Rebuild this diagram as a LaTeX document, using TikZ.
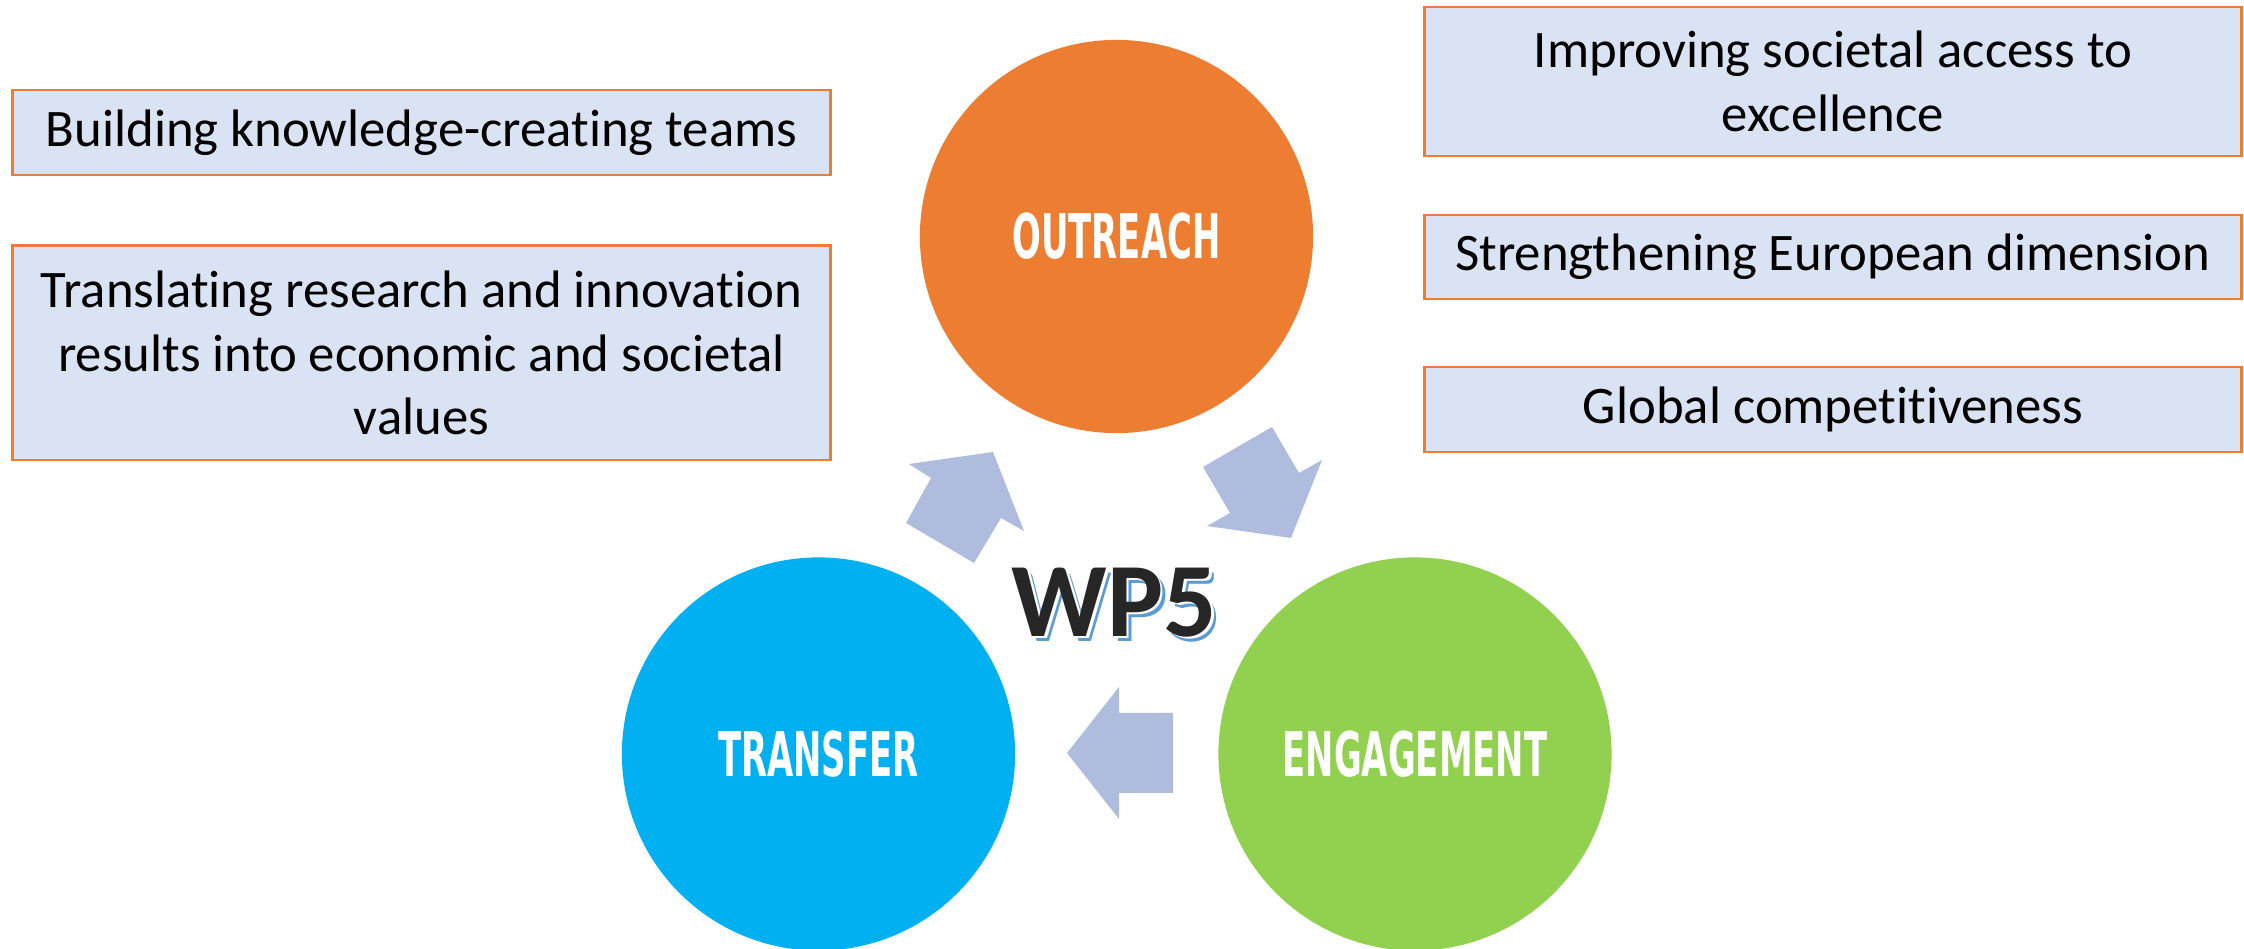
\documentclass[tikz,border=0pt]{standalone}
\usepackage{fontspec}
\setmainfont{Carlito}[Ligatures={NoCommon}]
\newfontfamily\circfont[FakeStretch=0.55]{DejaVu Sans}
\usepackage{tikz}
\usetikzlibrary{positioning}
\usepackage{xcolor}
\definecolor{wporange}{RGB}{237,125,49}
\definecolor{wpblue}{RGB}{0,176,240}
\definecolor{wpgreen}{RGB}{146,208,80}
\definecolor{wpbox}{RGB}{218,227,243}
\definecolor{wparrowc}{RGB}{176,188,222}
\definecolor{wpshadow}{RGB}{91,155,213}
\tikzstyle{goalbox} = [draw=wporange, line width=0.8pt, fill=wpbox, minimum width=8.17cm, align=center, inner sep=0pt, font=\fontsize{15}{18}\selectfont]
\tikzstyle{wpcircle} = [circle, minimum size=3.93cm, inner sep=0pt, text=white, font=\circfont\bfseries\fontsize{17.5}{20}\selectfont]
\tikzstyle{wparrow} = [fill=wparrowc]
\tikzstyle{wptext} = [inner sep=0pt, font=\bfseries\fontsize{30}{32}\selectfont]

\begin{document}
\begin{tikzpicture}[x=0.01cm, y=-0.01cm]
\useasboundingbox (0,0) rectangle (2244,949);

% Left boxes
\node[goalbox, minimum height=0.85cm] (bka) at (421.5,132.5) {Building knowledge-creating teams};
\node[goalbox, minimum height=2.14cm, below=0.68cm of bka] (bkb) {Translating research and innovation\\results into economic and societal\\values};

% Right boxes
\node[goalbox, minimum height=1.49cm] (bra) at (1833,81.5) {Improving societal access to\\excellence};
\node[goalbox, minimum height=0.84cm] (brb) at (1833,257) {Strengthening European dimension};
\node[goalbox, minimum height=0.85cm] (brc) at (1833,409.5) {Global competitiveness};

% Circles
\node[wpcircle, fill=wporange] (outreach) at (1116.5,236.5) {OUTREACH};
\node[wpcircle, fill=wpblue] (transfer) at (818.5,754) {TRANSFER};
\node[wpcircle, fill=wpgreen] (engage) at (1415,754) {ENGAGEMENT};

% Block arrows
\fill[wparrow] (993,452) -- (1024,531) -- (1001,518) -- (974,563) -- (906,523) -- (931,478) -- (909,464) -- cycle;
\fill[wparrow] (1291,538) -- (1207,526) -- (1230,513) -- (1203,467) -- (1272,427) -- (1299,473) -- (1322,460) -- cycle;
\fill[wparrow] (1067,753) -- (1119,687) -- (1119,713) -- (1173,713) -- (1173,793) -- (1119,793) -- (1119,819) -- cycle;

% WP5 title
\node[wptext, text=wpshadow] (wpshade) at (1119.5,607.5) {WP5};
\node[wptext, text=white] (wpgap) at (1117,605) {WP5};
\node[wptext, text=black!85] (wp) at (1114.5,602.5) {WP5};
\end{tikzpicture}
\end{document}
